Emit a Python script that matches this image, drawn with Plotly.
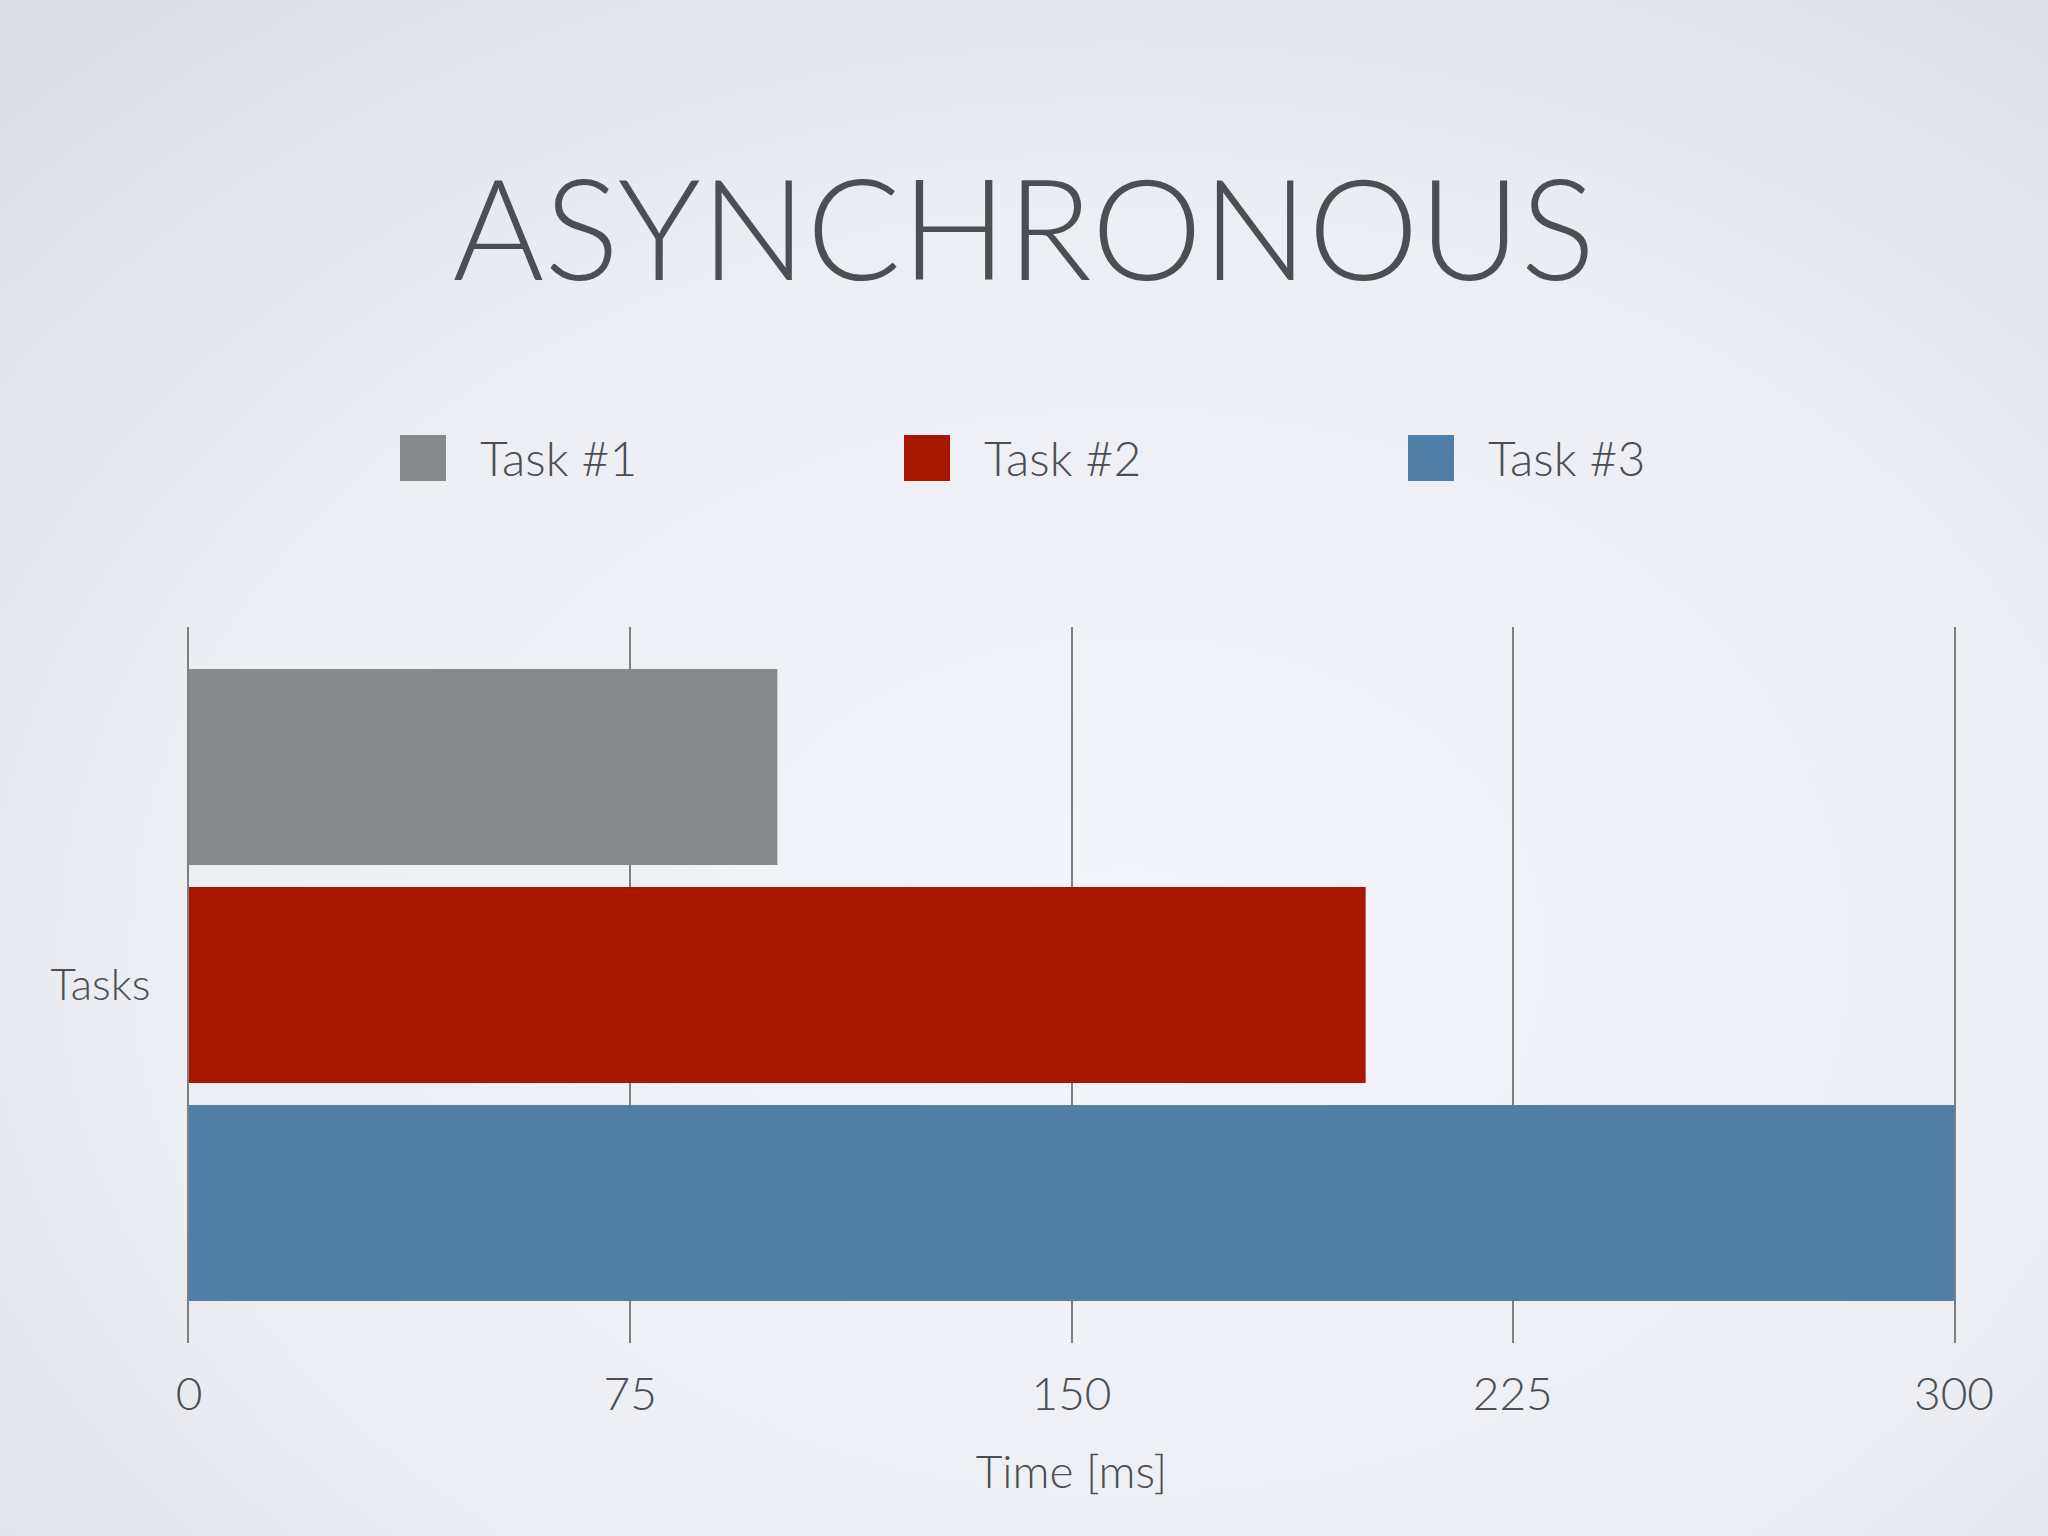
import base64
import plotly.graph_objects as go

# ---- data ----
categories = ["Tasks"]
series_names = ["Task #1", "Task #2", "Task #3"]
series_values = [[100], [200], [300]]
series_colors = ["#868a8a", "#a81700", "#517ea6"]
x_ticks = [0, 75, 150, 225, 300]
x_title = "Time [ms]"
chart_title = "ASYNCHRONOUS"

W, H = 2048, 1536
ML, MR, MT, MB = 189, 94, 627, 193
PW, PH = W - ML - MR, H - MT - MB

TXT = "#4b4e52"
FONT = "Lato"
GRID = "#7d8083"

fig = go.Figure()
for name, vals, col in zip(series_names, series_values, series_colors):
    fig.add_trace(go.Bar(
        y=categories, x=vals, name=name, orientation="h",
        marker=dict(color=col, line=dict(width=0)), showlegend=False,
    ))

# background gradient as an SVG image
svg = f"""<svg xmlns='http://www.w3.org/2000/svg' width='{W}' height='{H}' viewBox='0 0 {W} {H}' preserveAspectRatio='none'>
<defs><radialGradient id='g' cx='0.55' cy='0.62' r='0.8'>
<stop offset='0' stop-color='#f3f4f9'/><stop offset='0.6' stop-color='#eceef3'/><stop offset='1' stop-color='#dadde4'/>
</radialGradient></defs><rect width='{W}' height='{H}' fill='url(#g)'/></svg>"""
src = "data:image/svg+xml;base64," + base64.b64encode(svg.encode()).decode()

shapes = []
annotations = []
# manual legend (large square symbols) built from the series lists
leg_x0 = 400
leg_step = 504
sq = 46
leg_cy = 458
for i, (name, col) in enumerate(zip(series_names, series_colors)):
    x0 = leg_x0 + i * leg_step
    shapes.append(dict(type="rect", xref="paper", yref="paper",
                       x0=(x0 - ML) / PW, x1=(x0 + sq - ML) / PW,
                       y0=(H - MB - (leg_cy + sq / 2)) / PH, y1=(H - MB - (leg_cy - sq / 2)) / PH,
                       fillcolor=col, line=dict(width=0), layer="above"))
    annotations.append(dict(text=name, xref="paper", yref="paper",
                            x=(x0 + sq + 32 - ML) / PW, y=(H - MB - leg_cy) / PH,
                            xanchor="left", yanchor="middle", showarrow=False,
                            font=dict(family=FONT, size=48, color=TXT, weight=300)))

fig.update_layout(
    width=W, height=H,
    margin=dict(l=ML, r=MR, t=MT, b=MB),
    paper_bgcolor="#e9ebf0",
    plot_bgcolor="rgba(0,0,0,0)",
    barmode="group", bargap=0.0866, bargroupgap=0.101,
    title=dict(text=chart_title, x=0.5, xref="container", xanchor="center",
               y=1 - 231 / H, yanchor="middle",
               font=dict(family=FONT, size=140, color=TXT, weight=300)),
    images=[dict(source=src, xref="paper", yref="paper",
                 x=-ML / PW, y=1 + MT / PH, sizex=W / PW, sizey=H / PH,
                 xanchor="left", yanchor="top", sizing="stretch", layer="below")],
    shapes=shapes,
    annotations=annotations,
    xaxis=dict(range=[0, 300], tickvals=x_ticks, ticktext=[str(v) for v in x_ticks],
               showgrid=True, gridcolor=GRID, gridwidth=1.5, zeroline=False,
               showline=False, ticks="", ticklabelstandoff=20,
               tickfont=dict(family=FONT, size=46, color=TXT, weight=300),
               title=dict(text=x_title, standoff=36,
                          font=dict(family=FONT, size=46, color=TXT, weight=300)),
               fixedrange=True, automargin=False),
    yaxis=dict(autorange="reversed", showgrid=False, zeroline=False,
               showline=True, mirror=True, linecolor=GRID, linewidth=1.5,
               ticks="", ticklabelstandoff=28,
               tickfont=dict(family=FONT, size=44, color=TXT, weight=300),
               automargin=False),
)

fig.write_html("out.html", config={"displayModeBar": False},
               post_script="document.body.style.margin='0';document.body.style.overflow='hidden';")
